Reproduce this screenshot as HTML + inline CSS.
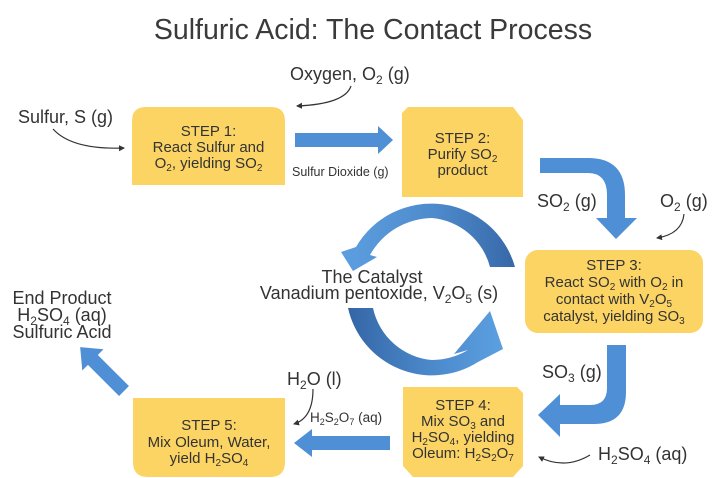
<!DOCTYPE html>
<html>
<head>
<meta charset="utf-8">
<style>
  html, body { margin:0; padding:0; background:#ffffff; }
  body { width:720px; height:478px; overflow:hidden; }
  svg { display:block; }
  text { font-family: "Liberation Sans", Arial, sans-serif; fill:#333333; }
</style>
</head>
<body>
<svg width="720" height="478" viewBox="0 0 720 478" xmlns="http://www.w3.org/2000/svg">
  <defs>
    <marker id="ah" markerWidth="7" markerHeight="7" refX="5" refY="3" orient="auto" markerUnits="userSpaceOnUse">
      <path d="M0,0 L6,3 L0,6 z" fill="#333"/>
    </marker>
    <linearGradient id="gUp" x1="0" y1="0" x2="1" y2="0">
      <stop offset="0" stop-color="#5C9FE0"/>
      <stop offset="0.55" stop-color="#4D8ACB"/>
      <stop offset="1" stop-color="#3768A8"/>
    </linearGradient>
    <linearGradient id="gLow" x1="0" y1="0" x2="1" y2="0">
      <stop offset="0" stop-color="#3466A6"/>
      <stop offset="0.5" stop-color="#4A87C9"/>
      <stop offset="1" stop-color="#5CA0E1"/>
    </linearGradient>
  </defs>

  <!-- Title -->
  <text x="373" y="39" font-size="28.5" text-anchor="middle" style="fill:#3a3a3a">Sulfuric Acid: The Contact Process</text>

  <!-- Boxes -->
  <path d="M132,185 L132,121 Q132,107 146,107 L271,107 Q285,107 285,121 L285,185 Z" fill="#FBD464"/>
  <path d="M402,197 L402,113 L408,107 L513,107 L523,120 L523,197 Z" fill="#FBD464"/>
  <rect x="525" y="250" width="178" height="83" rx="13" ry="13" fill="#FBD464"/>
  <path d="M403,387 L517,387 L523,393 L523,466 L513,477 L413,477 L403,466 Z" fill="#FBD464"/>
  <path d="M133,398 L285,398 L285,462 Q285,477 270,477 L148,477 Q133,477 133,462 Z" fill="#FBD464"/>

  <!-- Blue arrows -->
  <path d="M295,133 L378,133 L378,126 L393,140 L378,154 L378,147 L295,147 Z" fill="#4F8FD5"/>
  <path d="M540,158 L588,158 Q625,158 625,195 L625,218 L637,218 L616,239 L596,218 L607,218 L607,195 Q607,173 588,173 L540,173 Z" fill="#4F8FD5"/>
  <path d="M607,345 L626,345 L626,392 Q626,424 594,424 L560,424 L560,437 L538,415 L560,394 L560,405 L590,405 Q607,405 607,388 Z" fill="#4F8FD5"/>
  <path d="M390,436 L312,436 L312,429 L294,443 L312,457 L312,450 L390,450 Z" fill="#4F8FD5"/>
  <path d="M0,-7 L44,-7 L44,-15 L62,0 L44,15 L44,7 L0,7 Z" transform="translate(124,391) rotate(-135)" fill="#4F8FD5"/>

  <!-- Catalyst circular arrows -->
  <path d="M515,267 A87,87 0 0 0 356,247 L341,252 L353,271 L377,257 L370,255 A72,72 0 0 1 432,218 A66,66 0 0 1 490,267 Z" fill="url(#gUp)"/>
  <path d="M348,308 A86,86 0 0 0 478,362 L503,349 L490,311 L454,354 L468,350 A72,72 0 0 1 432,360 A66,66 0 0 1 373,308 Z" fill="url(#gLow)"/>

  <!-- Thin connector curves -->
  <g fill="none" stroke="#333" stroke-width="1.2">
    <path d="M53,129 Q72,150 124,148" marker-end="url(#ah)"/>
    <path d="M351,86 Q345,104 297,106" marker-end="url(#ah)"/>
    <path d="M684,214 Q682,234 657,238" marker-end="url(#ah)"/>
    <path d="M590,455 Q565,470 539,457" marker-end="url(#ah)"/>
    <path d="M313,389 Q313,418 294,424" marker-end="url(#ah)"/>
  </g>

  <!-- Step 1 text -->
  <g font-size="15" text-anchor="middle">
    <text x="208.5" y="136">STEP 1:</text>
    <text x="208.5" y="152">React Sulfur and</text>
    <text x="208.5" y="168">O<tspan font-size="10" dy="3">2</tspan><tspan dy="-3">, yielding SO</tspan><tspan font-size="10" dy="3">2</tspan></text>
  </g>
  <!-- Step 2 text -->
  <g font-size="15" text-anchor="middle">
    <text x="462.5" y="143">STEP 2:</text>
    <text x="462.5" y="159">Purify SO<tspan font-size="10" dy="3">2</tspan></text>
    <text x="462.5" y="175">product</text>
  </g>
  <!-- Step 3 text -->
  <g font-size="15" text-anchor="middle">
    <text x="614" y="270">STEP 3:</text>
    <text x="614" y="287">React SO<tspan font-size="10" dy="3">2</tspan><tspan dy="-3"> with O</tspan><tspan font-size="10" dy="3">2</tspan><tspan dy="-3"> in</tspan></text>
    <text x="614" y="304">contact with V<tspan font-size="10" dy="3">2</tspan><tspan dy="-3">O</tspan><tspan font-size="10" dy="3">5</tspan></text>
    <text x="614" y="321">catalyst, yielding SO<tspan font-size="10" dy="3">3</tspan></text>
  </g>
  <!-- Step 4 text -->
  <g font-size="15" text-anchor="middle">
    <text x="463" y="410">STEP 4:</text>
    <text x="463" y="426">Mix SO<tspan font-size="10" dy="3">3</tspan><tspan dy="-3"> and</tspan></text>
    <text x="463" y="442">H<tspan font-size="10" dy="3">2</tspan><tspan dy="-3">SO</tspan><tspan font-size="10" dy="3">4</tspan><tspan dy="-3">, yielding</tspan></text>
    <text x="463" y="458">Oleum: H<tspan font-size="10" dy="3">2</tspan><tspan dy="-3">S</tspan><tspan font-size="10" dy="3">2</tspan><tspan dy="-3">O</tspan><tspan font-size="10" dy="3">7</tspan></text>
  </g>
  <!-- Step 5 text -->
  <g font-size="15" text-anchor="middle">
    <text x="209" y="430">STEP 5:</text>
    <text x="209" y="447">Mix Oleum, Water,</text>
    <text x="209" y="463">yield H<tspan font-size="10" dy="3">2</tspan><tspan dy="-3">SO</tspan><tspan font-size="10" dy="3">4</tspan></text>
  </g>

  <!-- Labels -->
  <g font-size="18">
    <text x="290" y="80">Oxygen, O<tspan font-size="12" dy="4">2</tspan><tspan dy="-4"> (g)</tspan></text>
    <text x="18" y="123">Sulfur, S (g)</text>
    <text x="537" y="207">SO<tspan font-size="12" dy="4">2</tspan><tspan dy="-4"> (g)</tspan></text>
    <text x="660" y="207">O<tspan font-size="12" dy="4">2</tspan><tspan dy="-4"> (g)</tspan></text>
    <text x="542" y="378">SO<tspan font-size="12" dy="4">3</tspan><tspan dy="-4"> (g)</tspan></text>
    <text x="598" y="460">H<tspan font-size="12" dy="4">2</tspan><tspan dy="-4">SO</tspan><tspan font-size="12" dy="4">4</tspan><tspan dy="-4"> (aq)</tspan></text>
    <text x="287" y="385">H<tspan font-size="12" dy="4">2</tspan><tspan dy="-4">O (l)</tspan></text>
  </g>
  <text x="292" y="176" font-size="12.5">Sulfur Dioxide (g)</text>
  <text x="310" y="422" font-size="13.5">H<tspan font-size="9" dy="3">2</tspan><tspan dy="-3">S</tspan><tspan font-size="9" dy="3">2</tspan><tspan dy="-3">O</tspan><tspan font-size="9" dy="3">7</tspan><tspan dy="-3"> (aq)</tspan></text>

  <!-- End product -->
  <g font-size="18" text-anchor="middle">
    <text x="62" y="304">End Product</text>
    <text x="62" y="321">H<tspan font-size="12" dy="4">2</tspan><tspan dy="-4">SO</tspan><tspan font-size="12" dy="4">4</tspan><tspan dy="-4"> (aq)</tspan></text>
    <text x="62" y="338">Sulfuric Acid</text>
  </g>

  <!-- Catalyst text -->
  <g font-size="18" text-anchor="middle">
    <text x="372" y="283">The Catalyst</text>
    <text x="379" y="299">Vanadium pentoxide, V<tspan font-size="12" dy="4">2</tspan><tspan dy="-4">O</tspan><tspan font-size="12" dy="4">5</tspan><tspan dy="-4"> (s)</tspan></text>
  </g>
</svg>
</body>
</html>
